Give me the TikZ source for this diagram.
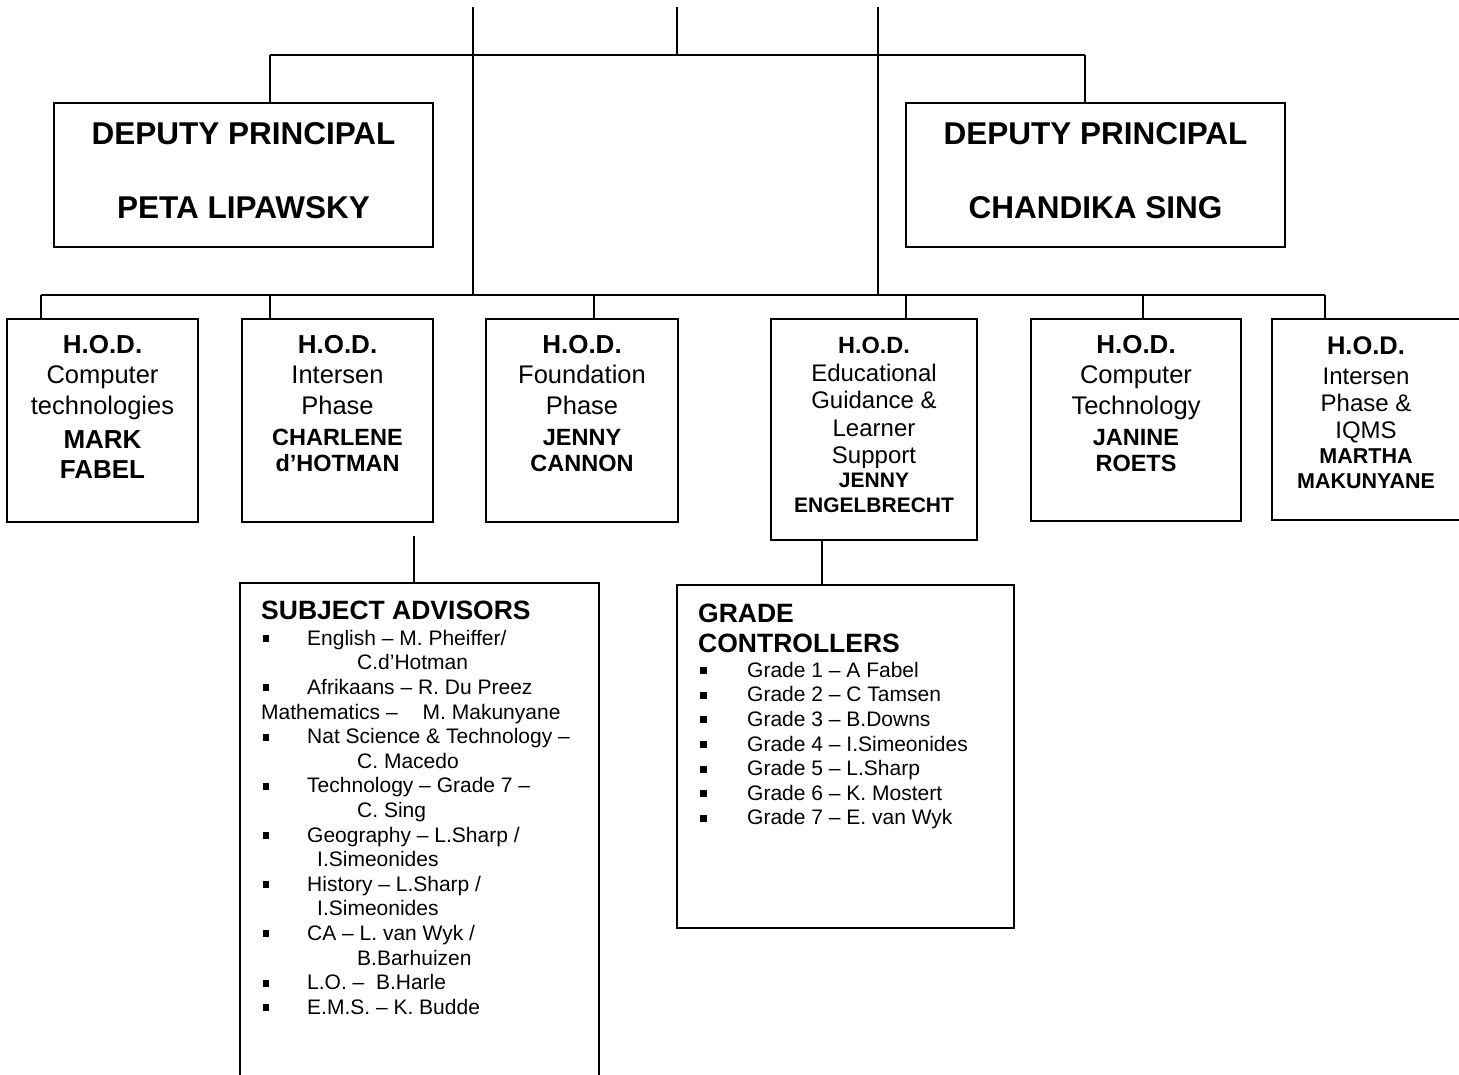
\documentclass[tikz,border=0pt]{standalone}
\usepackage{fontspec}
\setmainfont{Liberation Sans}
\newcommand\hodb[2]{{\fontsize{#1}{#1}\selectfont\bfseries #2}}
\newcommand\hodn[2]{{\fontsize{#1}{#1}\selectfont #2}}
\newcommand\boxlines[3]{\foreach \yy/\txt [count=\k] in {#3} {\node[lbl] (#1l\k) at (#2,\yy) {\txt};}}
\newcommand\sabul{\makebox[46pt][l]{\hspace*{1.5pt}\rule[3pt]{6.5pt}{7pt}}}
\newcommand\gcbul{\makebox[49pt][l]{\hspace*{2pt}\rule[3pt]{6.5pt}{7pt}}}
\begin{document}
\begin{tikzpicture}[x=1pt,y=-1pt,
  box/.style={draw, line width=1.8pt, anchor=north west, inner sep=0pt, outer sep=0pt},
  conn/.style={line width=1.3pt},
  lbl/.style={anchor=base, inner sep=0pt},
  dptext/.style={anchor=base, inner sep=0pt, font=\fontsize{31.5}{36}\selectfont\bfseries},
  hdtext/.style={anchor=base west, inner sep=0pt, font=\fontsize{26.5}{30}\selectfont\bfseries},
  listtext/.style={anchor=north west, inner sep=0pt, align=left, font=\fontsize{21}{24.6}\selectfont}]
\useasboundingbox (0,0) rectangle (1459,1074);
\clip (0,0) rectangle (1459,1074);

% deputy principals
\node[box, minimum width=379pt, minimum height=144pt] (dp1) at (54,103) {};
\node[box, minimum width=379pt, minimum height=144pt] (dp2) at (906,103) {};
\node[dptext] (dp1a) at (243.5,144) {DEPUTY PRINCIPAL};
\node[dptext] (dp1b) at (243.5,218) {PETA LIPAWSKY};
\node[dptext] (dp2a) at (1095.5,144) {DEPUTY PRINCIPAL};
\node[dptext] (dp2b) at (1095.5,218) {CHANDIKA SING};

% HOD boxes
\node[box, minimum width=191pt, minimum height=203pt] (h1) at (7,319) {};
\node[box, minimum width=191pt, minimum height=203pt] (h2) at (242,319) {};
\node[box, minimum width=192pt, minimum height=203pt] (h3) at (486,319) {};
\node[box, minimum width=206pt, minimum height=221pt] (h4) at (771,319) {};
\node[box, minimum width=210pt, minimum height=202pt] (h5) at (1031,319) {};
\node[box, minimum width=190pt, minimum height=201pt] (h6) at (1272,319) {};

\boxlines{h1}{102.5}{353/{\hodb{26}{H.O.D.}}, 383/{\hodn{25.5}{Computer}}, 414/{\hodn{25.5}{technologies}}, 448/{\hodb{26}{MARK}}, 478/{\hodb{26}{FABEL}}}
\boxlines{h2}{337.5}{353/{\hodb{26}{H.O.D.}}, 383/{\hodn{25.5}{Intersen}}, 414/{\hodn{25.5}{Phase}}, 445/{\hodb{23.5}{CHARLENE}}, 471/{\hodb{23.5}{d’HOTMAN}}}
\boxlines{h3}{582}{353/{\hodb{26}{H.O.D.}}, 383/{\hodn{25.5}{Foundation}}, 414/{\hodn{25.5}{Phase}}, 445/{\hodb{23.5}{JENNY}}, 471/{\hodb{23.5}{CANNON}}}
\boxlines{h4}{874}{353/{\hodb{23.5}{H.O.D.}}, 381/{\hodn{24}{Educational}}, 408/{\hodn{24}{Guidance \&}}, 436/{\hodn{24}{Learner}}, 463/{\hodn{24}{Support}}, 487/{\hodb{21}{JENNY}}, 512/{\hodb{21}{ENGELBRECHT}}}
\boxlines{h5}{1136}{353/{\hodb{26}{H.O.D.}}, 383/{\hodn{25.5}{Computer}}, 414/{\hodn{25.5}{Technology}}, 445/{\hodb{23.5}{JANINE}}, 471/{\hodb{23.5}{ROETS}}}
\boxlines{h6}{1366}{354/{\hodb{25.5}{H.O.D.}}, 384/{\hodn{24}{Intersen}}, 411/{\hodn{24}{Phase \&}}, 438/{\hodn{24}{IQMS}}, 463/{\hodb{21.5}{MARTHA}}, 488/{\hodb{21.5}{MAKUNYANE}}}

% subject advisors
\node[box, minimum width=359pt, minimum height=510pt] (sa) at (240,583) {};
\node[hdtext] (sah) at (261,619) {SUBJECT ADVISORS};
\node[listtext] (sal) at (261,627.8) {\strut\sabul English – M. Pheiffer/\\
\hspace*{96pt}C.d’Hotman\\
\sabul Afrikaans – R. Du Preez\\
Mathematics –\hspace{25pt}M. Makunyane\\
\sabul Nat Science \& Technology –\\
\hspace*{96pt}C. Macedo\\
\sabul Technology – Grade 7 –\\
\hspace*{96pt}C. Sing\\
\sabul Geography – L.Sharp /\\
\hspace*{56pt}I.Simeonides\\
\sabul History – L.Sharp /\\
\hspace*{56pt}I.Simeonides\\
\sabul CA – L. van Wyk /\\
\hspace*{96pt}B.Barhuizen\\
\sabul L.O. –\ \ B.Harle\\
\sabul E.M.S. – K. Budde};

% grade controllers
\node[box, minimum width=337pt, minimum height=343pt] (gc) at (677,585) {};
\node[hdtext] (gch1) at (698,622) {GRADE};
\node[hdtext] (gch2) at (698,652) {CONTROLLERS};
\node[listtext] (gcl) at (698,659.8) {\strut\gcbul Grade 1 – A Fabel\\
\gcbul Grade 2 – C Tamsen\\
\gcbul Grade 3 – B.Downs\\
\gcbul Grade 4 – I.Simeonides\\
\gcbul Grade 5 – L.Sharp\\
\gcbul Grade 6 – K. Mostert\\
\gcbul Grade 7 – E. van Wyk};

% connectors
\coordinate (t1) at (473,7);
\coordinate (t2) at (677,7);
\coordinate (t3) at (878,7);
\coordinate (jl) at (270,55);
\coordinate (jr) at (1085,55);
\draw[conn] (jl) -- (jr);
\draw[conn] (t2) -- (t2 |- jl);
\draw[conn] (jl) -- (jl |- dp1.north);
\draw[conn] (jr) -- (jr |- dp2.north);
\coordinate (bl) at (41,295);
\coordinate (br) at (1325,295);
\draw[conn] (bl) -- (br);
\draw[conn] (t1) -- (t1 |- bl);
\draw[conn] (t3) -- (t3 |- bl);
\coordinate (d2) at (270,295);
\coordinate (d3) at (594,295);
\coordinate (d4) at (906,295);
\coordinate (d5) at (1143,295);
\draw[conn] (bl) -- (bl |- h1.north);
\draw[conn] (d2) -- (d2 |- h2.north);
\draw[conn] (d3) -- (d3 |- h3.north);
\draw[conn] (d4) -- (d4 |- h4.north);
\draw[conn] (d5) -- (d5 |- h5.north);
\draw[conn] (br) -- (br |- h6.north);
\coordinate (c1) at (414,536);
\draw[conn] (c1) -- (c1 |- sa.north);
\coordinate (c2) at (822,0);
\draw[conn] (c2 |- h4.south) -- (c2 |- gc.north);
\end{tikzpicture}
\end{document}
